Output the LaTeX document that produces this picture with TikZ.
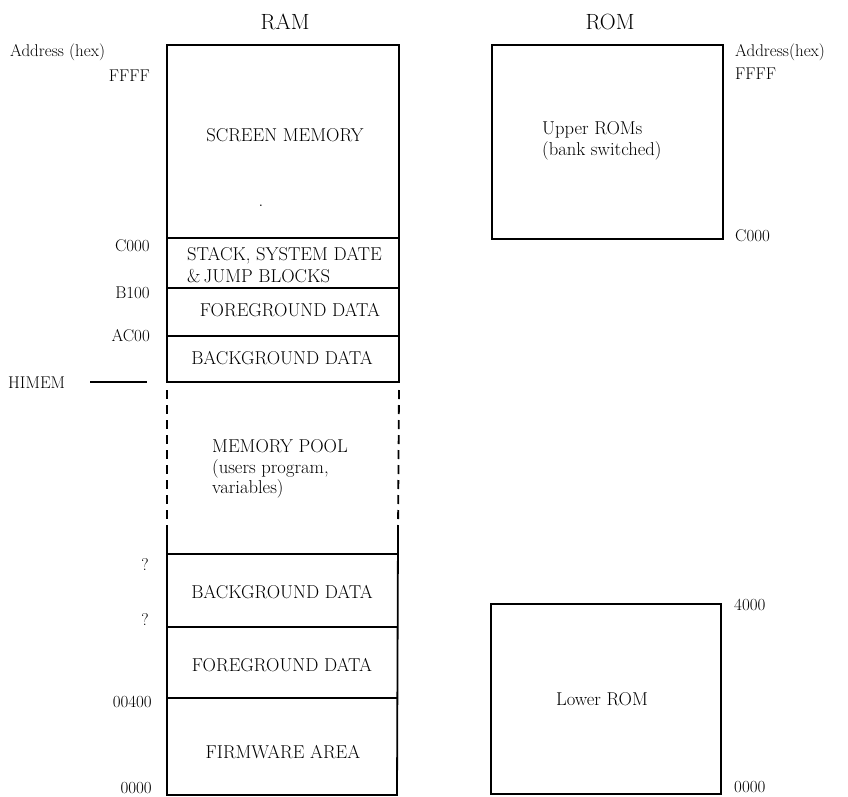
\documentclass[tikz,border=0pt]{standalone}
\begin{document}
\begin{tikzpicture}[x=1pt,y=-1pt,
  box/.style={line width=1.8pt},
  big/.style={font=\fontsize{18.6}{22}\selectfont, inner sep=0pt},
  lab/.style={font=\fontsize{17}{20}\selectfont, inner sep=0pt},
  ttl/.style={font=\fontsize{22}{26}\selectfont, inner sep=0pt}]
\useasboundingbox (0,0) rectangle (848,797);
% titles
\node[ttl, anchor=base] (ramt) at (285,30) {RAM};
\node[ttl, anchor=base] (romt) at (610,30) {ROM};
% RAM coordinates
\coordinate (rtl) at (167,45);
\coordinate (rtr) at (399,45);
\coordinate (rhl) at (167,382);
\coordinate (rhr) at (399,382);
\coordinate (rdl) at (167,533);
\coordinate (rdr) at (398,533);
\coordinate (rbl) at (167,795);
\coordinate (rbr) at (397,795);
% upper RAM block
\draw[box] (rhl) -- (rtl) -- (rtr) -- (rhr) -- cycle;
\draw[box] (167,238) -- (399,238);
\draw[box] (167,288) -- (399,288);
\draw[box] (167,336) -- (399,336);
% dashed pool sides
\draw[box, dash pattern=on 9pt off 6pt] (rhl) ++(0,8) -- (rdl);
\draw[box, dash pattern=on 9pt off 6pt] (rhr) ++(0,8) -- (rdr);
% lower RAM block
\draw[box] (rdl) -- (rbl) -- (rbr) -- (rdr);
\draw[box] (167,554) -- (398,554);
\draw[box] (167,627) -- (398,627);
\draw[box] (167,698) -- (397,698);
% ROM boxes
\draw[box] (492,45) rectangle (723,239);
\draw[box] (491,604) rectangle (721,794);
% HIMEM line
\coordinate (hm1) at (90,382);
\coordinate (hm2) at (147,382);
\draw[line width=1.2pt] (hm1) -- (hm2);
% left labels
\node[lab, anchor=base west] (addrl) at (10,57) {Address (hex)};
\node[lab, anchor=base east] (ffffl) at (150,82) {FFFF};
\node[lab, anchor=base east] (c000l) at (150,251) {C000};
\node[lab, anchor=base east] (b100l) at (150,298) {B100};
\node[lab, anchor=base east] (ac00l) at (150,341) {AC00};
\node[lab, anchor=base west] (himem) at (8,388) {HIMEM};
\node[lab, anchor=base] (q1) at (145,570) {?};
\node[lab, anchor=base] (q2) at (145,625) {?};
\node[lab, anchor=base east] (a400) at (152,707) {00400};
\node[lab, anchor=base east] (a0000) at (152,793) {0000};
% right labels
\node[lab, anchor=base west] (addrr) at (735,57) {Address(hex)};
\node[lab, anchor=base west] (ffffr) at (735,80) {FFFF};
\node[lab, anchor=base west] (c000r) at (735,241) {C000};
\node[lab, anchor=base west] (r4000) at (734,610) {4000};
\node[lab, anchor=base west] (r0000) at (734,792) {0000};
% RAM texts
\node[big, anchor=base] (scr) at (285,142) {SCREEN MEMORY};
\node[big, anchor=base] (dot) at (261,206) {.};
\node[big, anchor=base west] (stk1) at (187,260) {STACK, SYSTEM DATE};
\node[big, anchor=base west] (stk2) at (187,282) {\&\,JUMP BLOCKS};
\node[big, anchor=base] (fg1) at (290,316) {FOREGROUND DATA};
\node[big, anchor=base] (bg1) at (282,364) {BACKGROUND DATA};
\node[big, anchor=base west] (mp1) at (212,452) {MEMORY POOL};
\node[big, anchor=base west] (mp2) at (212,473) {(users program,};
\node[big, anchor=base west] (mp3) at (212,493) {variables)};
\node[big, anchor=base] (bg2) at (282,598) {BACKGROUND DATA};
\node[big, anchor=base] (fg2) at (282,671) {FOREGROUND DATA};
\node[big, anchor=base] (fw) at (283,758) {FIRMWARE AREA};
% ROM texts
\node[big, anchor=base west] (up1) at (542,135) {Upper ROMs};
\node[big, anchor=base west] (up2) at (542,155) {(bank switched)};
\node[big, anchor=base] (low) at (602,705) {Lower ROM};
\end{tikzpicture}
\end{document}
